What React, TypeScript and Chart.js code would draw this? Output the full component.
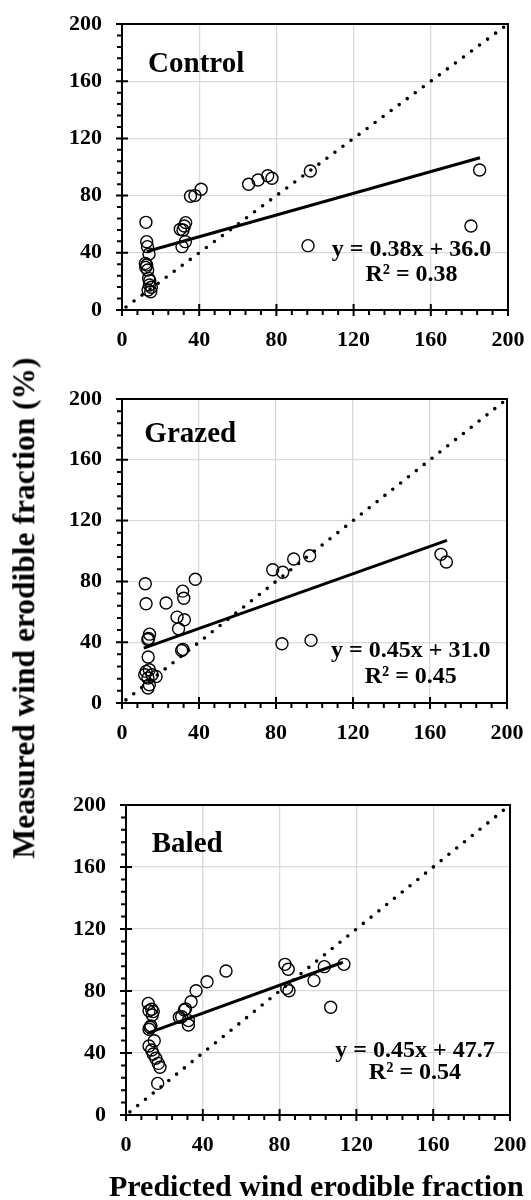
import React, { useEffect, useRef } from "react";
import { Chart, registerables } from "chart.js";

Chart.register(...registerables);

const FONT = '"Liberation Serif", "Times New Roman", serif';

// ---- data ----
const tickValues = [0, 40, 80, 120, 160, 200];
const minorStep = 8;

const panelNames = ["Control", "Grazed", "Baled"];

const controlPredicted = [12.4, 12.8, 13.2, 14.0, 12.1, 12.8, 12.3, 13.3, 13.8, 14.4, 15.2, 13.5, 14.9, 14.2, 31.1, 32.8, 31.6, 30.2, 32.3, 33.0, 35.5, 37.8, 41.0, 65.6, 70.5, 75.5, 77.7, 97.6, 96.4, 180.8, 185.3];
const controlMeasured = [61.3, 47.8, 44.3, 39.2, 32.6, 31.5, 29.8, 28.0, 22.1, 20.5, 15.9, 14.0, 12.8, 17.5, 44.3, 47.8, 55.9, 56.4, 58.7, 61.1, 79.5, 80.0, 84.4, 87.9, 90.9, 93.9, 92.1, 97.2, 45.0, 58.7, 97.9];

const grazedPredicted = [12.1, 12.5, 22.9, 38.1, 31.5, 32.1, 28.6, 32.4, 29.4, 14.3, 13.4, 13.8, 31.6, 31.0, 13.6, 12.5, 14.2, 15.6, 17.7, 11.8, 13.5, 14.2, 13.5, 78.3, 83.5, 89.2, 97.5, 83.1, 98.2, 165.7, 168.5];
const grazedMeasured = [78.5, 65.3, 65.8, 81.4, 73.6, 68.9, 56.5, 54.8, 48.8, 45.3, 41.8, 42.5, 35.3, 34.5, 30.3, 20.8, 21.9, 18.6, 17.5, 18.6, 16.4, 12.0, 9.9, 87.7, 86.0, 94.7, 96.9, 39.0, 41.2, 97.8, 92.8];

const baledPredicted = [11.6, 12.0, 13.4, 14.2, 13.7, 12.5, 12.0, 13.0, 14.7, 12.0, 13.4, 14.2, 15.5, 16.8, 17.7, 16.5, 27.8, 29.0, 30.4, 31.0, 32.5, 32.5, 33.9, 36.5, 42.2, 52.1, 82.8, 84.5, 83.7, 84.9, 97.9, 103.3, 113.5, 106.6];
const baledMeasured = [72.0, 67.3, 68.2, 66.7, 64.5, 56.6, 55.3, 57.5, 47.9, 44.5, 41.9, 39.4, 36.6, 33.3, 30.8, 20.4, 63.0, 63.4, 67.7, 68.5, 60.9, 58.1, 73.1, 80.2, 86.0, 92.9, 97.2, 94.0, 81.7, 80.2, 86.7, 95.7, 97.2, 69.5];

const slopes = [0.38, 0.45, 0.45];
const intercepts = [36.0, 31.0, 47.7];
const rSquared = [0.38, 0.45, 0.54];
const trendStart = [12.8, 11.3, 11.0];
const trendEnd = [185.5, 168.8, 113.0];

const oneToOneX = [0, 200];
const oneToOneY = [0, 200];

const predictedSets = [controlPredicted, grazedPredicted, baledPredicted];
const measuredSets = [controlMeasured, grazedMeasured, baledMeasured];

// ---- layout (pixels) ----
const layouts = [
  { top: 0, height: 360, chartLeft: 122, chartRight: 508, chartTop: 24, chartBottom: 310 },
  { top: 375, height: 375, chartLeft: 122, chartRight: 507, chartTop: 399, chartBottom: 703 },
  { top: 770, height: 400, chartLeft: 126, chartRight: 510, chartTop: 805, chartBottom: 1115 },
];
const CANVAS_W = 531;

// text anchors (in data units of each panel)
const textAnchors = [
  { labelX: 13.5, labelY: 172, eqX: 150, eqY: 42, r2Y: 24.5 },
  { labelX: 11.6, labelY: 176.5, eqX: 150, eqY: 34.2, r2Y: 17.1 },
  { labelX: 13.4, labelY: 174.8, eqX: 150.5, eqY: 41.1, r2Y: 27.1 },
];

const decorPlugin = {
  id: "panelDecor",
  afterDraw(chart: any, _args: any, opts: any) {
    const { ctx, chartArea: a, scales } = chart;
    const x = scales.x;
    const y = scales.y;
    ctx.save();
    ctx.strokeStyle = "#000";
    ctx.lineWidth = 2;
    ctx.lineCap = "square";
    ctx.beginPath();
    ctx.moveTo(a.left, a.top);
    ctx.lineTo(a.right, a.top);
    ctx.lineTo(a.right, a.bottom);
    ctx.stroke();

    ctx.lineCap = "butt";
    ctx.beginPath();
    for (let v = tickValues[0]; v <= tickValues[tickValues.length - 1]; v += minorStep) {
      const major = tickValues.includes(v);
      const px = x.getPixelForValue(v);
      ctx.moveTo(px, a.bottom - (major ? 6 : 0));
      ctx.lineTo(px, a.bottom + (major ? 6 : 5));
      const py = y.getPixelForValue(v);
      ctx.moveTo(a.left + (major ? 6 : 0), py);
      ctx.lineTo(a.left - (major ? 6 : 5), py);
    }
    ctx.stroke();

    ctx.fillStyle = "#000";
    ctx.textBaseline = "middle";
    ctx.textAlign = "left";
    ctx.font = `bold 29px ${FONT}`;
    ctx.fillText(opts.label, x.getPixelForValue(opts.labelX), y.getPixelForValue(opts.labelY));
    ctx.textAlign = "center";
    ctx.font = `bold 24px ${FONT}`;
    ctx.fillText(opts.eq, x.getPixelForValue(opts.eqX), y.getPixelForValue(opts.eqY));
    ctx.fillText(opts.r2, x.getPixelForValue(opts.eqX), y.getPixelForValue(opts.r2Y));
    ctx.restore();
  },
};

function zeroPadding(s: any) {
  s.paddingLeft = 0;
  s.paddingRight = 0;
  s.paddingTop = 0;
  s.paddingBottom = 0;
}

function Panel({ index }: { index: number }) {
  const ref = useRef<HTMLCanvasElement>(null);
  const L = layouts[index];
  useEffect(() => {
    const canvas = ref.current;
    if (!canvas) return;
    const pred = predictedSets[index];
    const meas = measuredSets[index];
    const slope = slopes[index];
    const b = intercepts[index];
    const anchors = textAnchors[index];
    const tickFont = { family: FONT, weight: "bold" as const, size: 22 };
    const gridColor = (c: any) =>
      c.tick && (c.tick.value === tickValues[0] || c.tick.value === tickValues[tickValues.length - 1])
        ? "rgba(0,0,0,0)"
        : "#d9d9d9";
    const chart = new Chart(canvas, {
      type: "scatter",
      data: {
        datasets: [
          {
            label: panelNames[index],
            data: pred.map((v, i) => ({ x: v, y: meas[i] })),
            pointRadius: 6,
            pointBorderWidth: 1.4,
            pointBorderColor: "#000",
            pointBackgroundColor: "rgba(0,0,0,0)",
            showLine: false,
            order: 1,
          },
          {
            label: "Linear fit",
            data: [trendStart[index], trendEnd[index]].map((v) => ({ x: v, y: slope * v + b })),
            showLine: true,
            borderColor: "#000",
            borderWidth: 3,
            pointRadius: 0,
            order: 2,
          },
          {
            label: "1:1",
            data: oneToOneX.map((v, i) => ({ x: v, y: oneToOneY[i] })),
            showLine: true,
            borderColor: "#000",
            borderWidth: 3.6,
            borderDash: [0, 10],
            borderDashOffset: 5,
            borderCapStyle: "round",
            pointRadius: 0,
            order: 3,
          },
        ] as any,
      },
      options: {
        animation: false,
        responsive: false,
        maintainAspectRatio: false,
        layout: {
          padding: {
            top: L.chartTop - L.top,
            right: CANVAS_W - L.chartRight,
            left: 0,
            bottom: 0,
          },
        },
        plugins: {
          legend: { display: false },
          tooltip: { enabled: false },
          panelDecor: {
            label: panelNames[index],
            eq: `y = ${slope.toFixed(2)}x + ${b.toFixed(1)}`,
            r2: `R² = ${rSquared[index].toFixed(2)}`,
            ...anchors,
          },
        } as any,
        scales: {
          x: {
            type: "linear",
            min: tickValues[0],
            max: tickValues[tickValues.length - 1],
            afterBuildTicks: (s: any) => {
              s.ticks = tickValues.map((v) => ({ value: v }));
            },
            afterFit: (s: any) => {
              s.height = L.top + L.height - L.chartBottom;
              zeroPadding(s);
            },
            grid: { color: gridColor, lineWidth: 1.3, drawTicks: false },
            border: { display: true, color: "#000", width: 2 },
            ticks: { font: tickFont, color: "#000", padding: 17, maxRotation: 0 },
          },
          y: {
            type: "linear",
            min: tickValues[0],
            max: tickValues[tickValues.length - 1],
            afterBuildTicks: (s: any) => {
              s.ticks = tickValues.map((v) => ({ value: v }));
            },
            afterFit: (s: any) => {
              s.width = L.chartLeft;
              zeroPadding(s);
            },
            grid: { color: gridColor, lineWidth: 1.3, drawTicks: false },
            border: { display: true, color: "#000", width: 2 },
            ticks: { font: tickFont, color: "#000", padding: 20 },
          },
        },
      },
      plugins: [decorPlugin as any],
    });
    return () => chart.destroy();
  }, [index]);
  return (
    <canvas
      ref={ref}
      width={CANVAS_W}
      height={L.height}
      style={{ position: "absolute", left: 0, top: L.top, width: CANVAS_W, height: L.height }}
    />
  );
}

export default function App() {
  return (
    <div
      style={{
        position: "absolute",
        left: 0,
        top: 0,
        width: 531,
        height: 1200,
        overflow: "hidden",
        background: "#fff",
      }}
    >
      <Panel index={0} />
      <Panel index={1} />
      <Panel index={2} />
      <div
        style={{
          position: "absolute",
          left: 24,
          top: 608,
          transform: "translate(-50%, -50%) rotate(-90deg)",
          fontFamily: FONT,
          fontWeight: "bold",
          fontSize: 31.5,
          lineHeight: 1,
          whiteSpace: "nowrap",
          color: "#000",
        }}
      >
        Measured wind erodible fraction (%)
      </div>
      <div
        style={{
          position: "absolute",
          left: 109,
          top: 1171,
          fontFamily: FONT,
          fontWeight: "bold",
          fontSize: 30,
          lineHeight: "30px",
          whiteSpace: "nowrap",
          color: "#000",
        }}
      >
        Predicted wind erodible fraction (%)
      </div>
    </div>
  );
}
